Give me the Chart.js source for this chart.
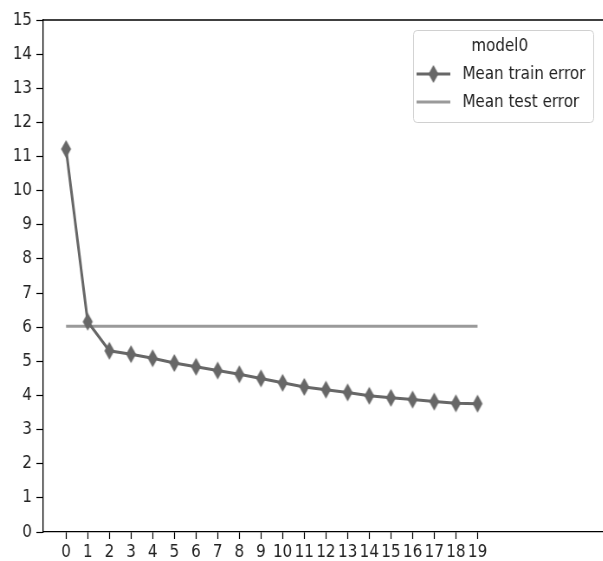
<!DOCTYPE html>
<html>
<head>
<meta charset="utf-8">
<script src="https://cdn.jsdelivr.net/npm/chart.js@4"></script>
<style>
  html, body { margin: 0; padding: 0; background: #fff; overflow: hidden; width: 603px; height: 561px; }
  #wrap { width: 740px; height: 561px; transform: scaleX(0.866); transform-origin: 0 0; }
</style>
</head>
<body>
<div id="wrap"><canvas id="errChart" width="740" height="561"></canvas></div>
<script>
const epochs = [0, 1, 2, 3, 4, 5, 6, 7, 8, 9, 10, 11, 12, 13, 14, 15, 16, 17, 18, 19];
const meanTrainError = [11.22, 6.16, 5.31, 5.21, 5.09, 4.95, 4.84, 4.73, 4.62, 4.5, 4.37, 4.25, 4.17, 4.09, 3.99, 3.93, 3.88, 3.82, 3.77, 3.76];
const meanTestError = [6.03, 6.03, 6.03, 6.03, 6.03, 6.03, 6.03, 6.03, 6.03, 6.03, 6.03, 6.03, 6.03, 6.03, 6.03, 6.03, 6.03, 6.03, 6.03, 6.03];
const legendTitle = 'model0';
const seriesNames = ['Mean train error', 'Mean test error'];

const trainColor = '#676767';
const testColor = '#9a9a9a';
const fontFamily = "'DejaVu Sans', sans-serif";

// thin diamond marker like matplotlib 'd'
function makeDiamond() {
    let c = document.createElement('canvas');
    c.width = 14;
    c.height = 20;
    let g = c.getContext('2d');
    g.fillStyle = trainColor;
    g.beginPath();
    g.moveTo(7, 1);
    g.lineTo(12.8, 10);
    g.lineTo(7, 19);
    g.lineTo(1.2, 10);
    g.closePath();
    g.fill();
    return c;
}
const diamond = makeDiamond();

const framePlugin = {
    id: 'frame',
    afterDraw(chart) {
        let ctx = chart.ctx;
        let a = chart.chartArea;
        ctx.save();
        ctx.strokeStyle = '#000';
        ctx.lineWidth = 1.3;
        ctx.beginPath();
        ctx.moveTo(a.left, a.top);
        ctx.lineTo(a.right, a.top);
        ctx.stroke();

        // legend box
        let bx = 477, by = 30, bw = 208, bh = 92;
        ctx.fillStyle = 'rgba(255,255,255,0.9)';
        ctx.strokeStyle = '#d0d0d0';
        ctx.lineWidth = 1;
        ctx.beginPath();
        ctx.roundRect(bx + 0.5, by + 0.5, bw, bh, 4);
        ctx.fill();
        ctx.stroke();

        ctx.fillStyle = '#222';
        ctx.font = '17.5px ' + fontFamily;
        ctx.textBaseline = 'middle';
        ctx.textAlign = 'center';
        ctx.fillText(legendTitle, 577, 46);

        ctx.textAlign = 'left';
        ctx.lineWidth = 3;
        ctx.strokeStyle = trainColor;
        ctx.beginPath();
        ctx.moveTo(481, 74);
        ctx.lineTo(520, 74);
        ctx.stroke();
        ctx.drawImage(diamond, 500.5 - diamond.width / 2, 74 - diamond.height / 2);
        ctx.fillText(seriesNames[0], 534, 74);

        ctx.strokeStyle = testColor;
        ctx.beginPath();
        ctx.moveTo(481, 102);
        ctx.lineTo(520, 102);
        ctx.stroke();
        ctx.fillText(seriesNames[1], 534, 102);
        ctx.restore();
    }
};

let ctx = document.getElementById('errChart').getContext('2d');
let errChart = new Chart(ctx, {
    type: 'line',
    data: {
        datasets: [
            {
                label: seriesNames[1],
                data: epochs.map((e, i) => ({ x: e, y: meanTestError[i] })),
                borderColor: testColor,
                borderWidth: 3,
                pointRadius: 0,
                tension: 0,
                order: 2,
            },
            {
                label: seriesNames[0],
                data: epochs.map((e, i) => ({ x: e, y: meanTrainError[i] })),
                borderColor: trainColor,
                backgroundColor: trainColor,
                borderWidth: 3,
                pointStyle: diamond,
                tension: 0,
                order: 1,
            },
        ],
    },
    options: {
        responsive: false,
        animation: false,
        layout: { padding: { top: 20, right: 0, left: 0, bottom: 0 } },
        plugins: {
            legend: { display: false },
            tooltip: { enabled: false },
        },
        scales: {
            x: {
                type: 'linear',
                min: -1.05,
                max: 26.26,
                afterBuildTicks: function (scale) {
                    scale.ticks = epochs.map(e => ({ value: e }));
                },
                afterFit: function (scale) {
                    scale.height = 29;
                },
                grid: { drawOnChartArea: false, tickLength: 7, tickColor: '#000', tickWidth: 1.2 },
                border: { color: '#000', width: 1.3 },
                ticks: {
                    autoSkip: false,
                    maxRotation: 0,
                    padding: 3,
                    color: '#222',
                    font: { family: fontFamily, size: 17.5 },
                    callback: v => String(v),
                },
            },
            y: {
                min: 0,
                max: 15,
                afterFit: function (scale) {
                    scale.width = 50;
                },
                grid: { drawOnChartArea: false, tickLength: 8, tickColor: '#000', tickWidth: 1.2 },
                border: { color: '#000', width: 1.3 },
                ticks: {
                    stepSize: 1,
                    padding: 5,
                    color: '#222',
                    font: { family: fontFamily, size: 17.5 },
                },
            },
        },
    },
    plugins: [framePlugin],
});
</script>
</body>
</html>
